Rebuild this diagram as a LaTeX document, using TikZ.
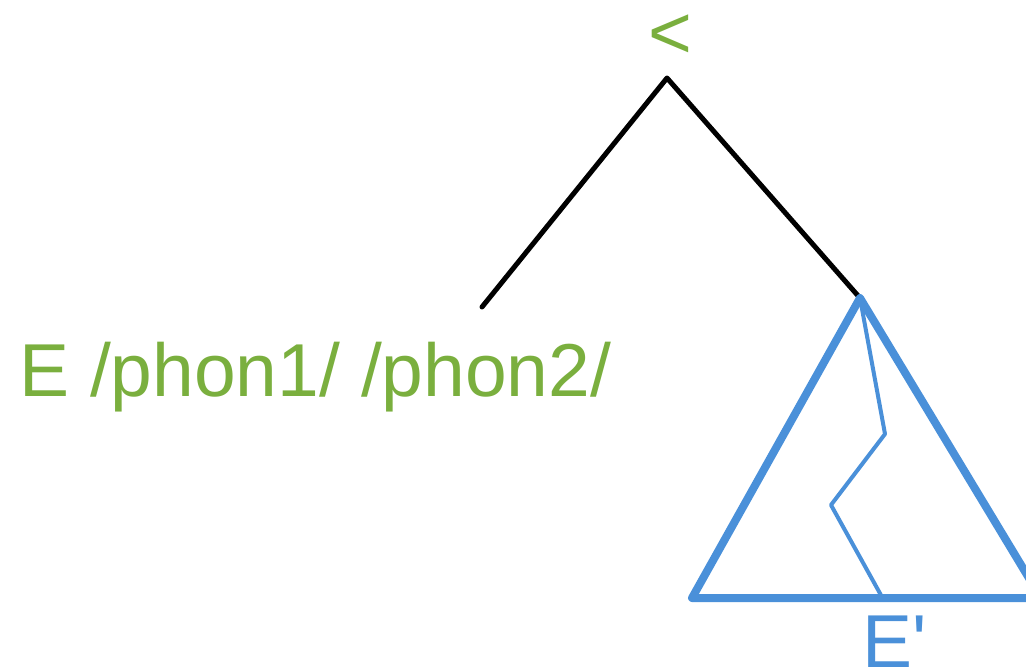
\documentclass[tikz,border=0pt]{standalone}
\usepackage{fontspec}
\setmainfont{Liberation Sans}
\definecolor{leafgreen}{RGB}{122,175,62}
\definecolor{treeblue}{RGB}{74,144,217}
\begin{document}
\begin{tikzpicture}[x=1pt,y=-1pt,
  label/.style={inner sep=0pt,font=\fontsize{75}{80}\selectfont},
  branch/.style={draw=black,line width=5pt,line cap=round,line join=round},
  subtree/.style={draw=treeblue,line width=8pt,line cap=round,line join=round},
  pathline/.style={draw=treeblue,line width=4pt,line cap=round,line join=round}]
\useasboundingbox (0,0) rectangle (1026,670);
\clip (0,0) rectangle (1026,670);
% root label and branches
\node[label,text=leafgreen,anchor=base] (root) at (670,58) {<};
\coordinate (top) at (667,78);
\coordinate (leftleaf) at (482,307);
\coordinate (apex) at (860,298);
\draw[branch] (leftleaf) -- (top) -- (apex);
% left daughter
\node[label,text=leafgreen,anchor=base west] (left) at (19,396) {E /phon1/ /phon2/};
% right daughter: triangle with an internal path
\coordinate (bl) at (692,598);
\coordinate (br) at (1041,598);
\draw[subtree] (apex) -- (bl) -- (br) -- cycle;
\coordinate (z1) at (885,434);
\coordinate (z2) at (831,505);
\coordinate (z3) at (882,597);
\draw[pathline] (apex) -- (z1) -- (z2) -- (z3);
\node[label,text=treeblue,anchor=base west] (right) at (862,667) {E\textquotesingle};
\end{tikzpicture}
\end{document}
